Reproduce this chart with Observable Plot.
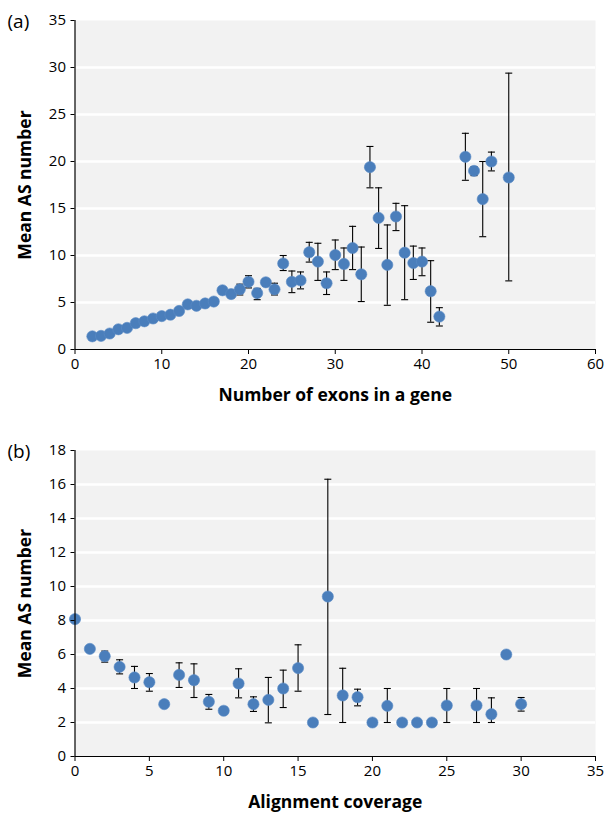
<!DOCTYPE html>
<html><head><meta charset="utf-8">
<script src="https://cdn.jsdelivr.net/npm/d3@7"></script>
<script src="https://cdn.jsdelivr.net/npm/@observablehq/plot@0.6"></script>
<style>
body{margin:0;background:#fff;font-family:"Open Sans",sans-serif}
#chart{width:607px}
#chart svg{display:block}
</style>
</head><body><div id="chart"></div>
<script>
// Panel (a): mean AS number by number of exons
const exonCount = [2,3,4,5,6,7,8,9,10,11,12,13,14,15,16,17,18,19,20,21,22,23,24,25,26,27,28,29,30,31,32,33,34,35,36,37,38,39,40,41,42,45,46,47,48,50];
const exonMean  = [1.4,1.45,1.7,2.15,2.3,2.8,3.0,3.3,3.55,3.7,4.1,4.8,4.65,4.9,5.1,6.3,5.9,6.4,7.2,6.0,7.15,6.4,9.15,7.2,7.35,10.35,9.35,7.05,10.05,9.1,10.8,8.0,19.4,14.0,9.0,14.15,10.3,9.2,9.35,6.2,3.5,20.5,19.0,16.0,20.0,18.3];
const exonLow   = [null,null,null,null,null,null,null,null,null,null,null,null,null,null,null,null,5.5,5.8,6.55,5.3,6.9,5.8,8.4,6.05,6.45,9.3,7.35,5.85,8.5,7.35,8.5,5.1,17.2,10.75,4.7,12.65,5.3,7.45,7.85,2.9,2.5,18.0,18.5,12.0,19.0,7.3];
const exonHigh  = [null,null,null,null,null,null,null,null,null,null,null,null,null,null,null,null,6.3,6.95,7.85,6.5,7.3,7.05,10.0,8.35,8.25,11.4,11.3,8.25,11.65,10.8,13.1,10.9,21.6,17.2,13.25,15.55,15.3,11.0,10.8,9.45,4.45,23.0,19.45,20.0,21.0,29.4];
const exonXTicks = [0,10,20,30,40,50,60];
const exonYTicks = [0,5,10,15,20,25,30,35];

// Panel (b): mean AS number by alignment coverage
const covValue = [0,1,2,3,4,5,6,7,8,9,10,11,12,13,14,15,16,17,18,19,20,21,22,23,24,25,27,28,29,30];
const covMean  = [8.08,6.33,5.9,5.27,4.65,4.37,3.08,4.8,4.49,3.22,2.69,4.29,3.08,3.33,4.0,5.2,2.0,9.41,3.59,3.49,2.0,2.98,2.0,2.0,2.0,3.0,3.0,2.49,6.0,3.08];
const covLow   = [null,null,5.55,4.86,4.0,3.84,null,4.06,3.47,2.78,2.6,3.45,2.65,1.98,2.88,3.84,null,2.47,2.0,2.98,null,2.0,null,null,null,2.0,2.0,2.0,null,2.67];
const covHigh  = [null,null,6.2,5.69,5.3,4.88,null,5.51,5.45,3.65,2.9,5.16,3.51,4.65,5.08,6.57,null,16.31,5.19,3.96,null,4.0,null,null,null,4.0,4.0,3.45,null,3.47];
const covXTicks = [0,5,10,15,20,25,30,35];
const covYTicks = [0,2,4,6,8,10,12,14,16,18];

const panels = [
  {tag:"(a)", xs:exonCount, ys:exonMean, lo:exonLow, hi:exonHigh, xTicks:exonXTicks, yTicks:exonYTicks,
   xLabel:"Number of exons in a gene", yLabel:"Mean AS number", marginTop:20, marginBottom:59},
  {tag:"(b)", xs:covValue, ys:covMean, lo:covLow, hi:covHigh, xTicks:covXTicks, yTicks:covYTicks,
   xLabel:"Alignment coverage", yLabel:"Mean AS number", marginTop:42, marginBottom:60}
];

const capSymbol = {
  draw(ctx, size) {
    const w = Math.sqrt(size / Math.PI);
    ctx.moveTo(-w, 0);
    ctx.lineTo(w, 0);
  }
};

const root = document.getElementById("chart");
for (const p of panels) {
  const rows = p.xs.map((x, i) => ({x, y: p.ys[i], lo: p.lo[i], hi: p.hi[i]}));
  const errs = rows.filter(d => d.lo != null && d.hi != null);
  const xMax = p.xTicks[p.xTicks.length - 1];
  const yMax = p.yTicks[p.yTicks.length - 1];
  const chart = Plot.plot({
    width: 607,
    height: 408,
    marginLeft: 74.5,
    marginRight: 12,
    marginTop: p.marginTop,
    marginBottom: p.marginBottom,
    style: {fontFamily: "'Open Sans', sans-serif", fontSize: "15px", color: "#000", background: "#fff", overflow: "visible"},
    x: {domain: [0, xMax]},
    y: {domain: [0, yMax]},
    marks: [
      Plot.frame({fill: "#f2f2f2", stroke: "none"}),
      Plot.gridY(p.yTicks.slice(1, -1), {stroke: "#fff", strokeOpacity: 1, strokeWidth: 2.5}),
      Plot.ruleX(errs, {x: "x", y1: "lo", y2: "hi", stroke: "#000", strokeWidth: 1.1}),
      Plot.dot(errs, {x: "x", y: "lo", symbol: capSymbol, r: 3.5, stroke: "#000", strokeWidth: 1.1, fill: "none"}),
      Plot.dot(errs, {x: "x", y: "hi", symbol: capSymbol, r: 3.5, stroke: "#000", strokeWidth: 1.1, fill: "none"}),
      Plot.dot(rows, {x: "x", y: "y", r: 5.6, fill: "#4a7ebb", stroke: "#5b8bc6", strokeWidth: 0.6}),
      Plot.ruleX([0], {stroke: "#000", strokeWidth: 1.2}),
      Plot.ruleY([0], {stroke: "#000", strokeWidth: 1.2}),
      Plot.axisY({ticks: p.yTicks, tickSize: 4, tickPadding: 5, label: null, fontSize: 15}),
      Plot.axisX({ticks: p.xTicks, tickSize: 5, tickPadding: 4, label: null, fontSize: 15}),
      Plot.text([p.yLabel], {frameAnchor: "left", rotate: -90, dx: -50, textAnchor: "middle", lineAnchor: "middle", fontWeight: "bold", fontSize: 17.5}),
      Plot.text([p.xLabel], {frameAnchor: "bottom", dy: 46, textAnchor: "middle", lineAnchor: "middle", fontWeight: "bold", fontSize: 17.5}),
      Plot.text([p.tag], {frameAnchor: "top-left", dx: -67.5, dy: 1, textAnchor: "start", lineAnchor: "middle", fontSize: 19})
    ]
  });
  root.appendChild(chart);
}
</script>
</body></html>
